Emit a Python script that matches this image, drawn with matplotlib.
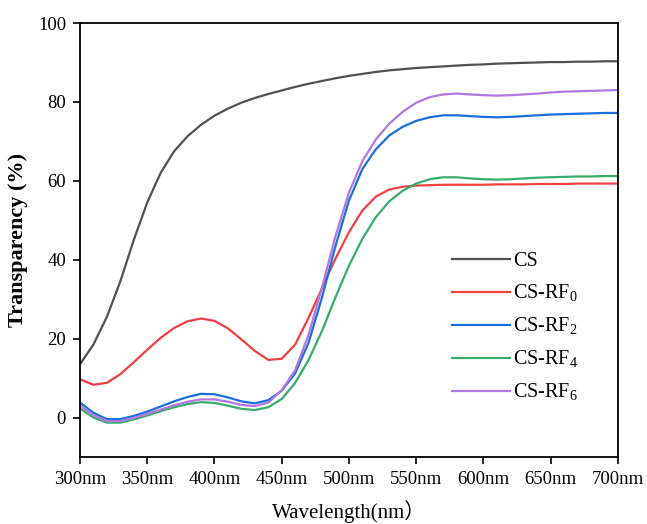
import numpy as np
import matplotlib.pyplot as plt

plt.rcParams['font.family'] = ['Liberation Serif', 'Noto Sans CJK SC']
plt.rcParams['mathtext.fontset'] = 'custom'
plt.rcParams['mathtext.rm'] = 'Liberation Serif'

# длины волн, нм
wl = np.arange(300, 701, 10)

cs = [13.5, 18.5, 25.5, 34.5, 45, 54.5, 62, 67.5, 71.3, 74.2, 76.5, 78.3, 79.8, 81, 82,
      82.9, 83.8, 84.6, 85.3, 86, 86.6, 87.1, 87.6, 88, 88.3, 88.6, 88.8, 89, 89.2, 89.4,
      89.5, 89.7, 89.8, 89.9, 90, 90.1, 90.1, 90.2, 90.2, 90.3, 90.3]
rf0 = [9.7, 8.3, 8.8, 11, 14, 17.2, 20.2, 22.7, 24.4, 25.1, 24.5, 22.6, 19.8, 16.9, 14.6,
       14.9, 18.5, 25.3, 32.8, 40.3, 47, 52.5, 56, 57.8, 58.5, 58.8, 58.9, 59, 59, 59,
       59, 59.1, 59.1, 59.1, 59.2, 59.2, 59.2, 59.3, 59.3, 59.3, 59.3]
rf2 = [3.8, 1.2, -0.4, -0.4, 0.4, 1.5, 2.8, 4.1, 5.2, 6.0, 5.9, 5.1, 4.1, 3.6, 4.4,
       6.8, 11.2, 19, 30.5, 43.5, 55, 63, 68, 71.5, 73.7, 75.2, 76.1, 76.6, 76.6, 76.4,
       76.2, 76.1, 76.2, 76.4, 76.6, 76.8, 76.9, 77, 77.1, 77.2, 77.2]
rf4 = [2.3, 0.0, -1.3, -1.3, -0.5, 0.5, 1.6, 2.6, 3.4, 3.9, 3.7, 3.0, 2.2, 1.9, 2.6,
       4.7, 8.8, 14.6, 22, 30.5, 38.5, 45.3, 50.8, 54.8, 57.5, 59.3, 60.4, 60.9, 60.9, 60.6,
       60.4, 60.3, 60.4, 60.6, 60.8, 60.9, 61, 61.1, 61.1, 61.2, 61.2]
rf6 = [3.0, 0.6, -0.9, -0.9, -0.1, 0.9, 2.0, 3.1, 4.0, 4.6, 4.6, 4.0, 3.2, 2.9, 3.8,
       6.9, 12, 21, 33, 46, 57, 65, 70.5, 74.5, 77.5, 79.8, 81.2, 81.9, 82.1, 81.9,
       81.7, 81.6, 81.7, 81.9, 82.1, 82.4, 82.6, 82.7, 82.8, 82.9, 83.0]

series = [cs, rf0, rf2, rf4, rf6]
labels = ['CS', r'CS-RF$_{0}$', r'CS-RF$_{2}$', r'CS-RF$_{4}$', r'CS-RF$_{6}$']
colors = ['#515151', '#F14040', '#1A6FDF', '#37AD6B', '#B177DE']

fig = plt.figure(figsize=(6.47, 5.24), dpi=100)
ax = fig.add_axes([0.1236, 0.1279, 0.8315, 0.8282])

for y, lab, c in zip(series, labels, colors):
    ax.plot(wl, y, color=c, linewidth=1.6, label=lab)

ax.set_xlim(300, 700)
ax.set_ylim(-10, 100)
xt = np.arange(300, 701, 50)
ax.set_xticks(xt)
ax.set_xticklabels([f'{v}nm' for v in xt])
ax.set_yticks([0, 20, 40, 60, 80, 100])
ax.tick_params(direction='out', length=5, width=1.2, labelsize=13.5, pad=5)
for s in ax.spines.values():
    s.set_linewidth(1.3)

ax.set_xlabel('Wavelength(nm）', fontsize=15, labelpad=9)
ax.set_ylabel('Transparency (%)', fontsize=16, fontweight='bold', labelpad=7)

ax.legend(loc='upper left', bbox_to_anchor=(0.691, 0.472), frameon=False,
          fontsize=14.5, handlelength=2.9, handletextpad=0.15, labelspacing=0.58,
          borderpad=0, borderaxespad=0)

fig.savefig('out.png', dpi=100)
